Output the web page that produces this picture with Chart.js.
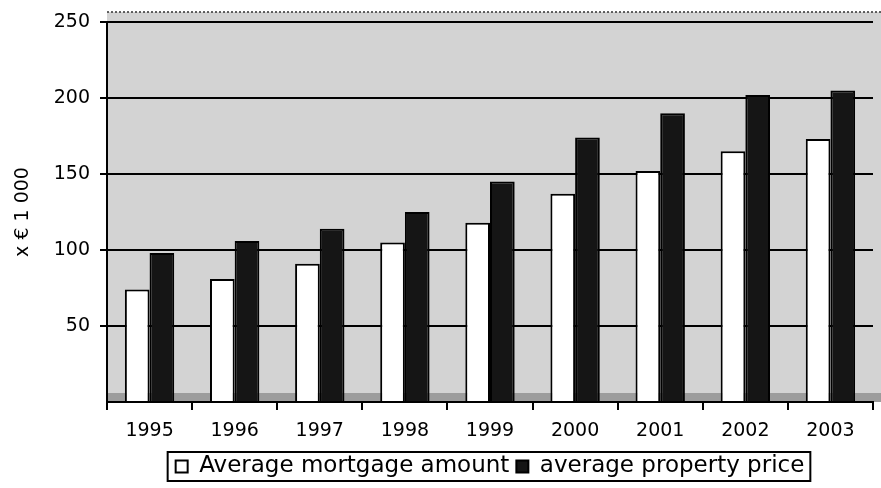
<!DOCTYPE html>
<html>
<head>
<meta charset="utf-8">
<script src="https://cdn.jsdelivr.net/npm/chart.js@4/dist/chart.umd.min.js"></script>
<style>
  html, body { margin: 0; padding: 0; background: #fff; }
  #wrap { width: 881px; height: 488px; }
</style>
</head>
<body>
<div id="wrap"><canvas id="chart"></canvas></div>
<script>
const years = ['1995', '1996', '1997', '1998', '1999', '2000', '2001', '2002', '2003'];
const mortgageAmount = [74, 81, 91, 105, 118, 137, 152, 165, 173];
const propertyPrice = [98, 106, 114, 125, 145, 174, 190, 202, 205];
const yMax = 250;
const yStep = 50;

const FONT = 'DejaVu Sans';

// grey "wall" behind the bars, a darker floor strip and the dotted top edge
const wallPlugin = {
    id: 'wall',
    beforeDraw(chart) {
        const {ctx, chartArea} = chart;
        const right = chart.width;
        ctx.save();
        ctx.fillStyle = '#d3d3d3';
        ctx.fillRect(chartArea.left, chartArea.top - 10, right - chartArea.left, chartArea.bottom - chartArea.top + 10);
        ctx.fillStyle = '#9c9c9c';
        ctx.fillRect(chartArea.left, chartArea.bottom - 9, right - chartArea.left, 9);
        ctx.strokeStyle = '#333';
        ctx.lineWidth = 1.5;
        ctx.setLineDash([2, 2]);
        ctx.beginPath();
        ctx.moveTo(chartArea.left, chartArea.top - 10);
        ctx.lineTo(right, chartArea.top - 10);
        ctx.stroke();
        ctx.restore();
    }
};

// frame round the legend items
const legendBoxPlugin = {
    id: 'legendBox',
    afterDraw(chart) {
        const boxes = chart.legend && chart.legend.legendHitBoxes;
        if (!boxes || !boxes.length) return;
        let left = Infinity, right = -Infinity, top = Infinity, bottom = -Infinity;
        for (const b of boxes) {
            left = Math.min(left, b.left);
            right = Math.max(right, b.left + b.width);
            top = Math.min(top, b.top);
            bottom = Math.max(bottom, b.top + b.height);
        }
        const ctx = chart.ctx;
        ctx.save();
        ctx.strokeStyle = '#000';
        ctx.lineWidth = 2;
        ctx.strokeRect(left - 8, top - 3, right - left + 14, bottom - top + 6);
        ctx.restore();
    }
};

new Chart(document.getElementById('chart'), {
    type: 'bar',
    data: {
        labels: years,
        datasets: [{
            label: 'Average mortgage amount',
            data: mortgageAmount,
            backgroundColor: '#ffffff',
            borderColor: '#000000',
            borderWidth: 2,
            categoryPercentage: 0.58,
            barPercentage: 1.0
        }, {
            label: 'average property price',
            data: propertyPrice,
            backgroundColor: '#151515',
            borderColor: '#000000',
            borderWidth: 2,
            categoryPercentage: 0.58,
            barPercentage: 1.0
        }]
    },
    options: {
        responsive: true,
        maintainAspectRatio: false,
        animation: false,
        layout: {padding: {top: 22, right: 8, bottom: 0, left: 0}},
        plugins: {
            tooltip: {enabled: false},
            legend: {
                position: 'bottom',
                fullSize: false,
                labels: {
                    color: '#000',
                    font: {family: FONT, size: 23},
                    boxWidth: 12,
                    boxHeight: 12,
                    padding: 7
                }
            }
        },
        scales: {
            x: {
                grid: {drawOnChartArea: false, color: '#000', lineWidth: 2, tickLength: 8},
                border: {color: '#000', width: 2},
                ticks: {color: '#000', font: {family: FONT, size: 19}, padding: 10, maxRotation: 0},
                afterFit(scale) { scale.height = 46; }
            },
            y: {
                min: 0,
                max: yMax,
                grid: {
                    color: ctx => (ctx.tick && ctx.tick.value === 0) ? 'rgba(0,0,0,0)' : '#000',
                    lineWidth: 2,
                    tickLength: 7
                },
                border: {color: '#000', width: 2},
                ticks: {
                    stepSize: yStep,
                    color: '#000',
                    font: {family: FONT, size: 19},
                    padding: 10,
                    callback: v => v === 0 ? '' : v
                },
                title: {
                    display: true,
                    text: 'x € 1 000',
                    color: '#000',
                    font: {family: FONT, size: 19},
                    padding: {top: 12, bottom: 0}
                },
                afterFit(scale) { scale.width = 107; }
            }
        }
    },
    plugins: [wallPlugin, legendBoxPlugin]
});
</script>
</body>
</html>
